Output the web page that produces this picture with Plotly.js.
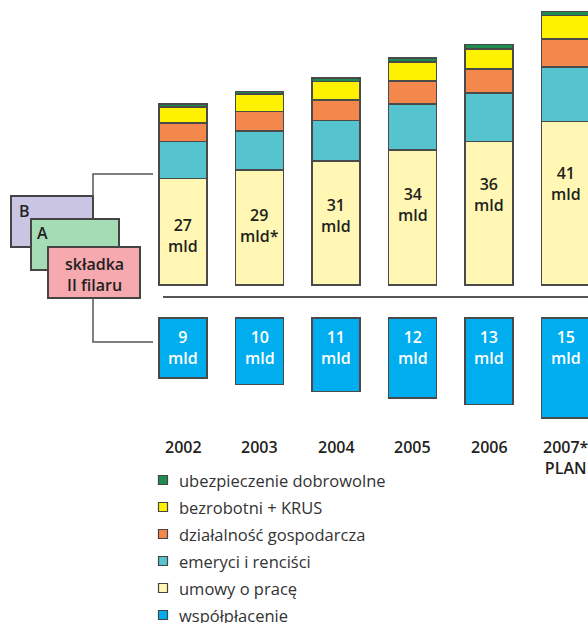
<!DOCTYPE html>
<html>
<head>
<meta charset="utf-8">
<script src="https://cdn.plot.ly/plotly-3.0.1.min.js"></script>
<style>html,body{margin:0;padding:0;background:#fff;}#chart{width:588px;height:623px;}</style>
</head>
<body>
<div id="chart"></div>
<script>
// ---- data ----
const years = ['2002', '2003', '2004', '2005', '2006', '2007'];
const yearLabels = ['2002', '2003', '2004', '2005', '2006', '2007*<br>PLAN'];
const umowyOPrace = [16.0, 17.25, 18.6, 20.25, 21.5, 24.5];
const emeryciIRencisci = [5.5, 5.85, 6.05, 6.85, 7.25, 8.15];
const dzialalnoscGosp = [2.8, 2.9, 3.1, 3.5, 3.6, 4.2];
const bezrobotniKrus = [2.4, 2.65, 2.75, 2.85, 3.0, 3.55];
const ubezpDobrowolne = [0.4, 0.35, 0.5, 0.55, 0.7, 0.6];
const wspolplacenie = [9, 10, 11, 12, 13, 15];
const totalLabels = ['27<br>mld', '29<br>mld*', '31<br>mld', '34<br>mld', '36<br>mld', '41<br>mld'];
const coLabels = ['9<br>mld', '10<br>mld', '11<br>mld', '12<br>mld', '13<br>mld', '15<br>mld'];
const seriesNames = ['umowy o pracę', 'emeryci i renciści', 'działalność gospodarcza',
  'bezrobotni + KRUS', 'ubezpieczenie dobrowolne', 'współpłacenie'];
const seriesColors = ['#FFF7B3', '#55C4CF', '#F4874B', '#FFF200', '#1E8C4E', '#00AEEF'];
const legendOrder = [4, 3, 2, 1, 0, 5];

// ---- layout helpers ----
const W = 588, H = 623;
const SC = 6.67;          // pixels per mld
const ZERO_PX = 285;      // pixel row of zero
const GAP = 33 / SC;      // gap between zero and the hanging bars
const BW = 0.63;
const edge = {color: '#4a4a4a', width: 1.5};
const fontFam = '"Open Sans", "DejaVu Sans", sans-serif';
const P = x => x / W;
const Q = y => 1 - y / H;
const D = y => (ZERO_PX - y) / SC;

const stacks = [umowyOPrace, emeryciIRencisci, dzialalnoscGosp, bezrobotniKrus, ubezpDobrowolne];
const data = stacks.map((vals, k) => ({
  type: 'bar', x: years, y: vals, name: seriesNames[k], width: BW,
  marker: {color: seriesColors[k], line: edge}, hoverinfo: 'skip'
}));
data.push({type: 'bar', x: years, y: wspolplacenie.map(v => -v), base: -GAP, width: BW,
  name: seriesNames[5], marker: {color: seriesColors[5], line: edge}, hoverinfo: 'skip'});

const dark = '#231F20';
const annotations = [];
years.forEach((yr, i) => {
  annotations.push({x: i, y: 7.35 + 1.56 * i, xref: 'x', yref: 'y', text: totalLabels[i],
    showarrow: false, yanchor: 'middle', font: {family: fontFam, size: 16, color: dark, weight: 600}});
  annotations.push({x: i, y: -GAP - 29.5 / SC, xref: 'x', yref: 'y', text: coLabels[i],
    showarrow: false, yanchor: 'middle', font: {family: fontFam, size: 16, color: '#ffffff', weight: 600}});
  annotations.push({x: i, y: D(434), xref: 'x', yref: 'y', text: yearLabels[i],
    showarrow: false, yanchor: 'top', font: {family: fontFam, size: 16, color: dark, weight: 600}});
});
// box labels
annotations.push({x: P(17), y: Q(211), xref: 'paper', yref: 'paper', text: 'B', showarrow: false,
  xanchor: 'left', yanchor: 'middle', font: {family: fontFam, size: 16, color: dark, weight: 600}});
annotations.push({x: P(35), y: Q(233), xref: 'paper', yref: 'paper', text: 'A', showarrow: false,
  xanchor: 'left', yanchor: 'middle', font: {family: fontFam, size: 16, color: dark, weight: 600}});
annotations.push({x: P(94), y: Q(275), xref: 'paper', yref: 'paper', text: 'składka<br>II filaru', showarrow: false,
  xanchor: 'center', yanchor: 'middle', font: {family: fontFam, size: 16, color: dark, weight: 600}});

const boxLine = {color: '#444', width: 2};
const shapes = [
  {type: 'rect', xref: 'paper', yref: 'paper', x0: P(11), x1: P(93), y0: Q(196), y1: Q(247), fillcolor: '#C9C5E3', line: boxLine},
  {type: 'rect', xref: 'paper', yref: 'paper', x0: P(31), x1: P(119), y0: Q(219), y1: Q(270), fillcolor: '#A5DCB6', line: boxLine},
  {type: 'rect', xref: 'paper', yref: 'paper', x0: P(48), x1: P(140), y0: Q(247), y1: Q(298), fillcolor: '#F6A9AF', line: boxLine},
  {type: 'path', xref: 'paper', yref: 'paper', line: {color: '#555', width: 1.5},
   path: `M ${P(153)},${Q(174)} L ${P(93)},${Q(174)} L ${P(93)},${Q(196)}`},
  {type: 'path', xref: 'paper', yref: 'paper', line: {color: '#555', width: 1.5},
   path: `M ${P(93)},${Q(298)} L ${P(93)},${Q(342)} L ${P(153)},${Q(342)}`},
  {type: 'line', xref: 'paper', yref: 'paper', x0: P(163), x1: 1, y0: Q(297), y1: Q(297), line: {color: '#555', width: 2}}
];

// legend (keys + labels)
legendOrder.forEach((k, j) => {
  const cy = 480 + 27 * j;
  shapes.push({type: 'rect', xref: 'paper', yref: 'paper', x0: P(158.5), x1: P(167.5),
    y0: Q(cy - 4.5), y1: Q(cy + 4.5), fillcolor: seriesColors[k], line: {color: '#444', width: 1.2}});
  annotations.push({x: P(177), y: Q(cy), xref: 'paper', yref: 'paper', text: seriesNames[k],
    showarrow: false, xanchor: 'left', yanchor: 'middle',
    font: {family: fontFam, size: 16.5, color: '#333'}});
});

const layout = {
  width: W, height: H,
  margin: {l: 0, r: 0, t: 0, b: 0},
  paper_bgcolor: '#fff', plot_bgcolor: '#fff',
  barmode: 'stack',
  showlegend: false,
  xaxis: {type: 'category', range: [-183 / 76.5, (W - 183) / 76.5], visible: false, fixedrange: true},
  yaxis: {range: [-(H - ZERO_PX) / SC, ZERO_PX / SC], visible: false, fixedrange: true},
  annotations: annotations,
  shapes: shapes
};
Plotly.newPlot('chart', data, layout, {displayModeBar: false, staticPlot: true});
</script>
</body>
</html>
